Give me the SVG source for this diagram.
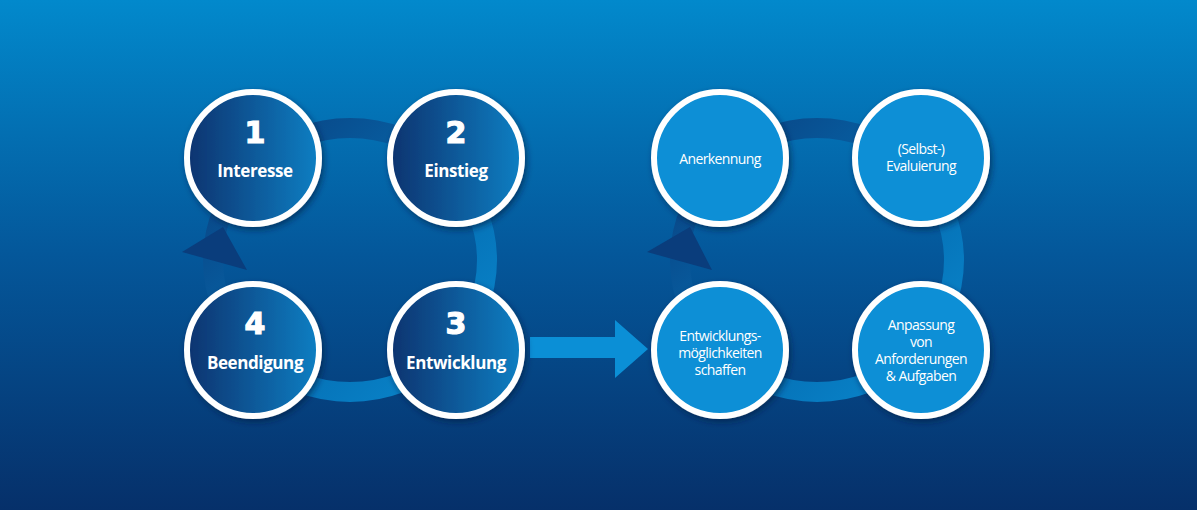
<svg xmlns="http://www.w3.org/2000/svg" width="1197" height="510" viewBox="0 0 1197 510">
<defs>
<linearGradient id="bg" x1="0" y1="0" x2="0" y2="1"><stop offset="0" stop-color="#0289cc"/><stop offset="0.5" stop-color="#04579a"/><stop offset="1" stop-color="#06306a"/></linearGradient>
<linearGradient id="nd" x1="0" y1="0" x2="1" y2="0"><stop offset="0" stop-color="#0a336f"/><stop offset="1" stop-color="#0a7fc3"/></linearGradient>
<linearGradient id="ring" x1="0" y1="0" x2="1" y2="1"><stop offset="0" stop-color="#0a3d7c"/><stop offset="0.6" stop-color="#0570b5"/><stop offset="1" stop-color="#0a8ad0"/></linearGradient>
<filter id="sh" x="-20%" y="-20%" width="140%" height="140%"><feDropShadow dx="2" dy="3" stdDeviation="3" flood-color="#001a40" flood-opacity="0.6"/></filter>
</defs>
<style>
.c1{fill:url(#nd);stroke:#fff;stroke-width:6;filter:url(#sh)}
.c2{fill:#0b8fd6;stroke:#fff;stroke-width:6;filter:url(#sh)}
.num{font-family:"DejaVu Sans",sans-serif;font-weight:900;font-size:30px;fill:#fff;text-anchor:middle;stroke:#fff;stroke-width:1.2}
.lb{font-family:"Open Sans","Liberation Sans",sans-serif;font-weight:bold;font-size:17px;fill:#fff;text-anchor:middle;letter-spacing:-0.4px}
.rl{font-family:"Open Sans","Liberation Sans",sans-serif;font-size:14px;fill:#fff;text-anchor:middle;letter-spacing:-0.6px}
.rg{fill:none;stroke:url(#ring);stroke-width:20}
.ah{fill:#0a3d7c}
</style>
<rect width="1197" height="510" fill="url(#bg)"/>
<g id="connectors">
<ellipse class="rg" cx="350" cy="260" rx="137" ry="132"/>
<polygon class="ah" points="223,227 182,252 247,270"/>
<ellipse class="rg" cx="817" cy="260" rx="137" ry="132"/>
<polygon class="ah" points="690,227 647,252 712,270"/>
<polygon fill="#0b8fd6" points="530,337 615,337 615,320 648,349 615,378 615,358 530,358"/>
</g>
<g id="n1"><circle class="c1" cx="253" cy="158" r="66"/><text class="num" x="255" y="143">1</text><text class="lb" x="255" y="177">Interesse</text></g>
<g id="n2"><circle class="c1" cx="456" cy="158" r="66"/><text class="num" x="456" y="143">2</text><text class="lb" x="456" y="177">Einstieg</text></g>
<g id="n3"><circle class="c1" cx="456" cy="350" r="66"/><text class="num" x="456" y="334">3</text><text class="lb" x="456" y="369">Entwicklung</text></g>
<g id="n4"><circle class="c1" cx="253" cy="350" r="66"/><text class="num" x="255" y="334">4</text><text class="lb" x="255" y="369">Beendigung</text></g>
<g id="r1"><circle class="c2" cx="720" cy="158" r="66"/><text class="rl" x="720" y="164">Anerkennung</text></g>
<g id="r2"><circle class="c2" cx="921" cy="158" r="66"/><text class="rl" x="921" y="154">(Selbst-)</text><text class="rl" x="921" y="171">Evaluierung</text></g>
<g id="r3"><circle class="c2" cx="720" cy="350" r="66"/><text class="rl" x="720" y="341">Entwicklungs-</text><text class="rl" x="720" y="358">möglichkeiten</text><text class="rl" x="720" y="375">schaffen</text></g>
<g id="r4"><circle class="c2" cx="921" cy="350" r="66"/><text class="rl" x="921" y="330">Anpassung</text><text class="rl" x="921" y="347">von</text><text class="rl" x="921" y="364">Anforderungen</text><text class="rl" x="921" y="381">&amp; Aufgaben</text></g>
</svg>
